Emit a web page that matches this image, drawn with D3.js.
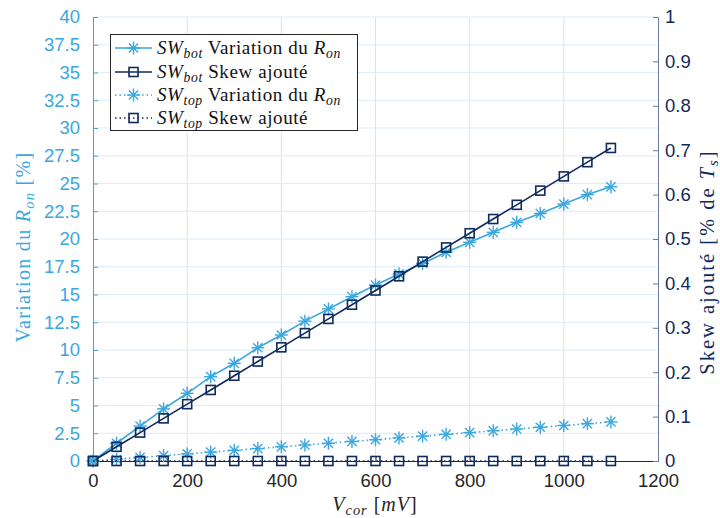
<!DOCTYPE html>
<html><head><meta charset="utf-8">
<script src="https://cdn.jsdelivr.net/npm/d3@7"></script>
<style>body{margin:0;background:#fff}svg{display:block}
.serif{font-family:"Liberation Serif","Times New Roman",Tinos,"Noto Serif","DejaVu Serif",Times,serif}
.sans{font-family:"Liberation Sans",Arial,sans-serif}
</style>
</head><body><div id="c"></div>
<script>
const vcor = [0,50,100,150,200,250,300,350,400,450,500,550,600,650,700,750,800,850,900,950,1000,1050,1100];
const ronBot = [0,1.6,3.15,4.7,6.1,7.6,8.8,10.2,11.35,12.6,13.7,14.8,15.85,16.85,17.8,18.8,19.7,20.6,21.5,22.3,23.15,24.0,24.7];
const skewBot = [0,0.032,0.064,0.096,0.128,0.16,0.192,0.224,0.256,0.288,0.32,0.352,0.384,0.416,0.449,0.481,0.513,0.545,0.577,0.609,0.641,0.673,0.705];
const ronTop = [0,0.16,0.32,0.48,0.64,0.8,0.96,1.12,1.28,1.44,1.6,1.76,1.92,2.08,2.24,2.4,2.56,2.72,2.88,3.04,3.2,3.36,3.52];
const skewTop = [0,0,0,0,0,0,0,0,0,0,0,0,0,0,0,0,0,0,0,0,0,0,0];
const xTicks = [0,200,400,600,800,1000,1200];
const leftTicks = [0,2.5,5,7.5,10,12.5,15,17.5,20,22.5,25,27.5,30,32.5,35,37.5,40];
const rightTicks = [0,0.1,0.2,0.3,0.4,0.5,0.6,0.7,0.8,0.9,1];

const W=720,H=518;
const L=93,R=658,T=17,B=461;
const cBlue="#3aa7de", cNavy="#0f2a5c", cRightAxis="#6a7b9b";
const svg=d3.select("#c").append("svg").attr("width",W).attr("height",H);
const x=d3.scaleLinear().domain([0,1200]).range([L,R]);
const yL=d3.scaleLinear().domain([0,40]).range([B,T]);
const yR=d3.scaleLinear().domain([0,1]).range([B,T]);

// grid
const g=svg.append("g");
g.selectAll(".hg").data(leftTicks.slice(1)).join("line")
 .attr("x1",L).attr("x2",R).attr("y1",d=>yL(d)).attr("y2",d=>yL(d))
 .attr("stroke","#dcecf8").attr("stroke-width",1);
g.selectAll(".vg").data(xTicks.slice(1,-1)).join("line")
 .attr("y1",T).attr("y2",B).attr("x1",d=>x(d)).attr("x2",d=>x(d))
 .attr("stroke","#e2e2e2").attr("stroke-width",1);

// axes
const FS=18.5;
const axB=d3.axisBottom(x).tickValues(xTicks).tickSize(-5).tickSizeOuter(0).tickPadding(13).tickFormat(d3.format("d"));
const gb=svg.append("g").attr("transform",`translate(0,${B})`).call(axB);
gb.attr("font-family",null);
gb.select(".domain").attr("stroke","#262626");
gb.selectAll(".tick line").attr("stroke","#262626");
gb.selectAll("text").attr("fill","#262626").attr("font-size",FS).attr("class","sans");

const axL=d3.axisLeft(yL).tickValues(leftTicks).tickSize(-5).tickSizeOuter(0).tickPadding(13).tickFormat(d=>String(d));
const gl=svg.append("g").attr("transform",`translate(${L},0)`).call(axL);
gl.attr("font-family",null);
gl.select(".domain").attr("stroke",cBlue);
gl.selectAll(".tick line").attr("stroke",cBlue);
gl.selectAll("text").attr("fill",cBlue).attr("font-size",FS).attr("class","sans");

const axR=d3.axisRight(yR).tickValues(rightTicks).tickSize(-5).tickSizeOuter(0).tickPadding(7).tickFormat(d=>String(d));
const gr=svg.append("g").attr("transform",`translate(${R},0)`).call(axR);
gr.attr("font-family",null);
gr.select(".domain").attr("stroke",cRightAxis);
gr.selectAll(".tick line").attr("stroke",cRightAxis);
gr.selectAll("text").attr("fill",cNavy).attr("font-size",FS).attr("class","sans");

// markers
function star(sel,cx,cy,col){
  const r=6.5;
  const gg=sel.append("g").attr("stroke",col).attr("stroke-width",1.4);
  for(let a=0;a<4;a++){const t=a*Math.PI/4;
    gg.append("line").attr("x1",cx-r*Math.cos(t)).attr("x2",cx+r*Math.cos(t))
      .attr("y1",cy-r*Math.sin(t)).attr("y2",cy+r*Math.sin(t));}
}
function square(sel,cx,cy,col){
  sel.append("rect").attr("x",cx-4.5).attr("y",cy-4.5).attr("width",9).attr("height",9)
   .attr("fill","none").attr("stroke",col).attr("stroke-width",1.6);
}
const series=[
 {v:ronBot,y:yL,col:cBlue,dash:null,m:star},
 {v:skewBot,y:yR,col:cNavy,dash:null,m:square},
 {v:ronTop,y:yL,col:cBlue,dash:"1.5,3",m:star},
 {v:skewTop,y:yR,col:cNavy,dash:"1.5,3",m:square},
];
const plot=svg.append("g");
series.forEach(s=>{
  const line=d3.line().x((d,i)=>x(vcor[i])).y(d=>s.y(d));
  plot.append("path").datum(s.v).attr("d",line).attr("fill","none").attr("stroke",s.col)
   .attr("stroke-width",1.6).attr("stroke-dasharray",s.dash);
  s.v.forEach((d,i)=>s.m(plot,x(vcor[i]),s.y(d),s.col));
});

// axis labels
function mathLabel(sel,parts){
  parts.forEach(p=>{
    const t=sel.append("tspan").text(p.t);
    if(p.i) t.attr("font-style","italic");
    if(p.sub) t.attr("font-size","0.72em").attr("baseline-shift","-25%");
  });
}
const lx=svg.append("text").attr("class","serif").attr("x",375).attr("y",511).attr("text-anchor","middle")
 .attr("font-size",20).attr("letter-spacing",1).attr("fill","#262626");
mathLabel(lx,[{t:"V",i:1},{t:"cor",i:1,sub:1},{t:" [",i:0},{t:"mV",i:1},{t:"]"}]);

const ll=svg.append("text").attr("class","serif").attr("transform","translate(30,247) rotate(-90)").attr("text-anchor","middle")
 .attr("font-size",20).attr("letter-spacing",1.3).attr("fill",cBlue);
mathLabel(ll,[{t:"Variation du "},{t:"R",i:1},{t:"on",i:1,sub:1},{t:" [%]"}]);

const lr=svg.append("text").attr("class","serif").attr("transform","translate(714,262) rotate(-90)").attr("text-anchor","middle")
 .attr("font-size",20.5).attr("letter-spacing",2).attr("fill",cNavy);
mathLabel(lr,[{t:"Skew ajouté [% de "},{t:"T",i:1},{t:"s",i:1,sub:1},{t:"]"}]);

// legend
const lg=svg.append("g");
lg.append("rect").attr("x",110.5).attr("y",34.5).attr("width",247).attr("height",96)
 .attr("fill","#fff").attr("stroke","#262626").attr("stroke-width",1);
const legItems=[
 {s:series[0],parts:[{t:"SW",i:1},{t:"bot",i:1,sub:1},{t:" Variation du "},{t:"R",i:1},{t:"on",i:1,sub:1}]},
 {s:series[1],parts:[{t:"SW",i:1},{t:"bot",i:1,sub:1},{t:" Skew ajouté"}]},
 {s:series[2],parts:[{t:"SW",i:1},{t:"top",i:1,sub:1},{t:" Variation du "},{t:"R",i:1},{t:"on",i:1,sub:1}]},
 {s:series[3],parts:[{t:"SW",i:1},{t:"top",i:1,sub:1},{t:" Skew ajouté"}]},
];
const rowsY=[48,72,95,118];
legItems.forEach((it,k)=>{
  const yy=rowsY[k];
  lg.append("line").attr("x1",115).attr("x2",152).attr("y1",yy).attr("y2",yy)
   .attr("stroke",it.s.col).attr("stroke-width",1.6).attr("stroke-dasharray",it.s.dash);
  it.s.m(lg,133.5,yy,it.s.col);
  const t=lg.append("text").attr("class","serif").attr("x",157).attr("y",yy+6)
   .attr("font-size",19).attr("letter-spacing",0.6).attr("fill","#111");
  mathLabel(t,it.parts);
});
</script></body></html>
